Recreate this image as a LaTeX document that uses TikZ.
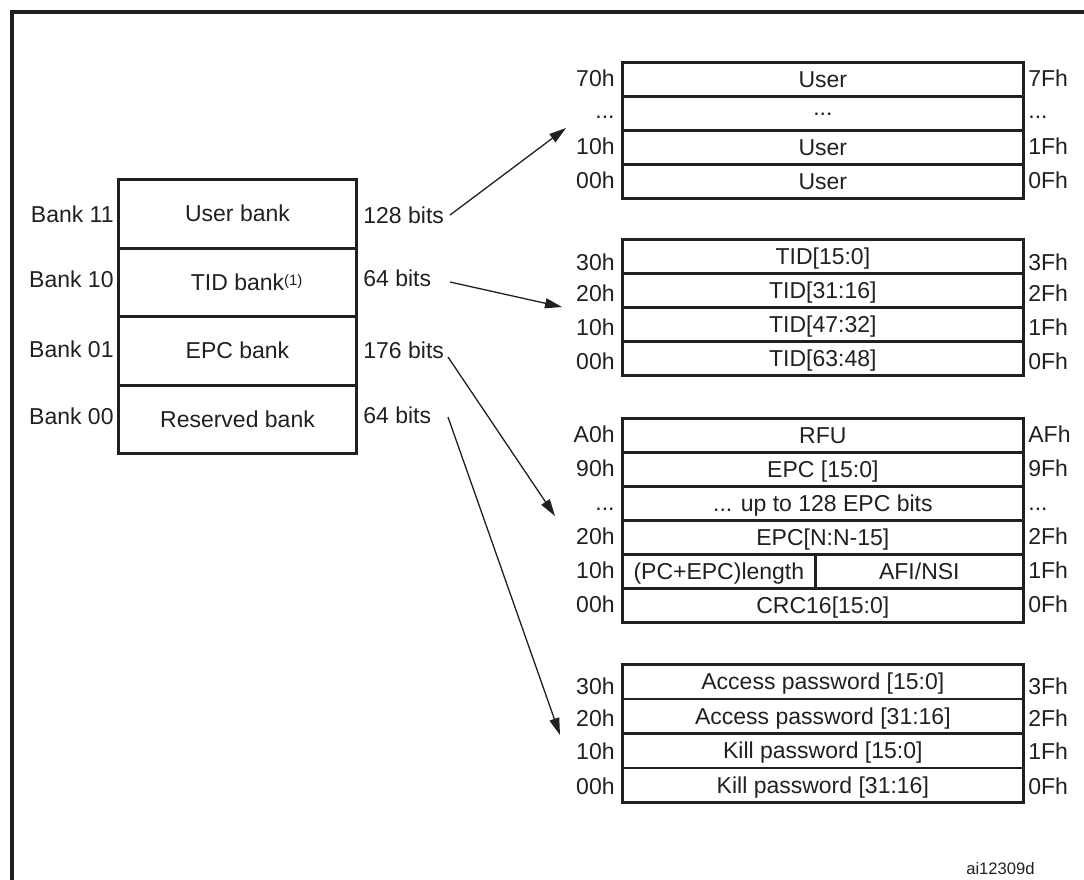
\documentclass[tikz,border=0pt]{standalone}
\usepackage{fontspec}
\setmainfont{Liberation Sans}
\usetikzlibrary{arrows.meta}
\definecolor{ink}{RGB}{35,31,32}
\begin{document}
\begin{tikzpicture}[x=0.5pt,y=-0.5pt,
  every node/.style={text=ink, font=\fontsize{11.5}{13}\selectfont, inner sep=0pt, text height=8.2pt, text depth=0pt},
  frameline/.style={draw=ink, line width=1.7pt},
  bankbox/.style={draw=ink, line width=1.5pt, minimum width=119pt, minimum height=34.25pt, anchor=north west},
  cell/.style={draw=ink, line width=1.35pt, minimum width=200.5pt, minimum height=17pt, anchor=north west},
  pcell/.style={cell, minimum height=17.25pt},
  lab/.style={anchor=east},
  rlab/.style={anchor=west},
  conn/.style={draw=ink, line width=0.65pt, -{Triangle[length=8.5pt,width=5pt]}},
]
\useasboundingbox (0,0) rectangle (1084,880);
% outer frame (only left and top edges visible)
\draw[frameline] (12,900) -- (12,12) -- (1100,12);

% ---------------- left block ----------------
\node[bankbox] (ub) at (117,178)   {User bank};
\node[bankbox] (tb) at (117,246.5) {TID bank\rlap{\raisebox{2.6pt}{\fontsize{7.5}{8}\selectfont(1)}}};
\node[bankbox] (eb) at (117,315)   {EPC bank};
\node[bankbox] (rb) at (117,383.5) {Reserved bank};

\node[lab] (n11) at (114,214) {Bank 11};
\node[lab] (n10) at (114,279) {Bank 10};
\node[lab] (n01) at (114,349) {Bank 01};
\node[lab] (n00) at (114,416) {Bank 00};

\node[rlab] (s11) at (363,215) {128 bits};
\node[rlab] (s10) at (363,278) {64 bits};
\node[rlab] (s01) at (363,350) {176 bits};
\node[rlab] (s00) at (363,415) {64 bits};

% ---------------- User memory ----------------
\node[cell] (u7) at (621,61)  {User};
\node[cell] (ud) at (621,95)  {\raisebox{3pt}{...}};
\node[cell] (u1) at (621,129) {User};
\node[cell] (u0) at (621,163) {User};
\node[lab] at (615,78)  {70h};  \node[rlab] at (1028,78)  {7Fh};
\node[lab] at (615,110) {...};  \node[rlab] at (1028,110) {...};
\node[lab] at (615,146) {10h};  \node[rlab] at (1028,146) {1Fh};
\node[lab] at (615,180) {00h};  \node[rlab] at (1028,180) {0Fh};

% ---------------- TID memory ----------------
\node[cell] (t3) at (621,238) {TID[15:0]};
\node[cell] (t2) at (621,272) {TID[31:16]};
\node[cell] (t1) at (621,306) {TID[47:32]};
\node[cell] (t0) at (621,340) {TID[63:48]};
\node[lab] at (615,262) {30h};  \node[rlab] at (1028,262) {3Fh};
\node[lab] at (615,293) {20h};  \node[rlab] at (1028,293) {2Fh};
\node[lab] at (615,327) {10h};  \node[rlab] at (1028,327) {1Fh};
\node[lab] at (615,361) {00h};  \node[rlab] at (1028,361) {0Fh};

% ---------------- EPC memory ----------------
\node[cell] (e5) at (621,417) {RFU};
\node[cell] (e4) at (621,451) {EPC [15:0]};
\node[cell] (e3) at (621,485) {... up to 128 EPC bits};
\node[cell] (e2) at (621,519) {EPC[N:N-15]};
\node[cell, minimum width=96.5pt] (e1a) at (621,553) {(PC+EPC)length};
\node[cell, minimum width=104pt]  (e1b) at (814,553) {AFI/NSI};
\node[cell] (e0) at (621,587) {CRC16[15:0]};
\node[lab] at (615,434) {A0h};  \node[rlab] at (1028,434) {AFh};
\node[lab] at (615,468) {90h};  \node[rlab] at (1028,468) {9Fh};
\node[lab] at (615,502) {...};  \node[rlab] at (1028,502) {...};
\node[lab] at (615,536) {20h};  \node[rlab] at (1028,536) {2Fh};
\node[lab] at (615,570) {10h};  \node[rlab] at (1028,570) {1Fh};
\node[lab] at (615,604) {00h};  \node[rlab] at (1028,604) {0Fh};

% ---------------- Reserved memory ----------------
\node[pcell] (p3) at (621,663)   {Access password [15:0]};
\node[pcell] (p2) at (621,697.5) {Access password [31:16]};
\node[pcell] (p1) at (621,732)   {Kill password [15:0]};
\node[pcell] (p0) at (621,766.5) {Kill password [31:16]};
\node[lab] at (615,686) {30h};  \node[rlab] at (1028,686) {3Fh};
\node[lab] at (615,718) {20h};  \node[rlab] at (1028,718) {2Fh};
\node[lab] at (615,751) {10h};  \node[rlab] at (1028,751) {1Fh};
\node[lab] at (615,786) {00h};  \node[rlab] at (1028,786) {0Fh};

\node[anchor=east, font=\fontsize{8.3}{10}\selectfont, text height=6pt] (id) at (1035,868) {ai12309d};

% ---------------- connectors ----------------
\coordinate (a1s) at (450,215); \coordinate (a1t) at (566,128);
\coordinate (a2s) at (450,282); \coordinate (a2t) at (562,307);
\coordinate (a3s) at (448,357); \coordinate (a3t) at (555,516);
\coordinate (a4s) at (448,417); \coordinate (a4t) at (560,735);
\draw[conn] (a1s) -- (a1t);
\draw[conn] (a2s) -- (a2t);
\draw[conn] (a3s) -- (a3t);
\draw[conn] (a4s) -- (a4t);
\end{tikzpicture}
\end{document}
